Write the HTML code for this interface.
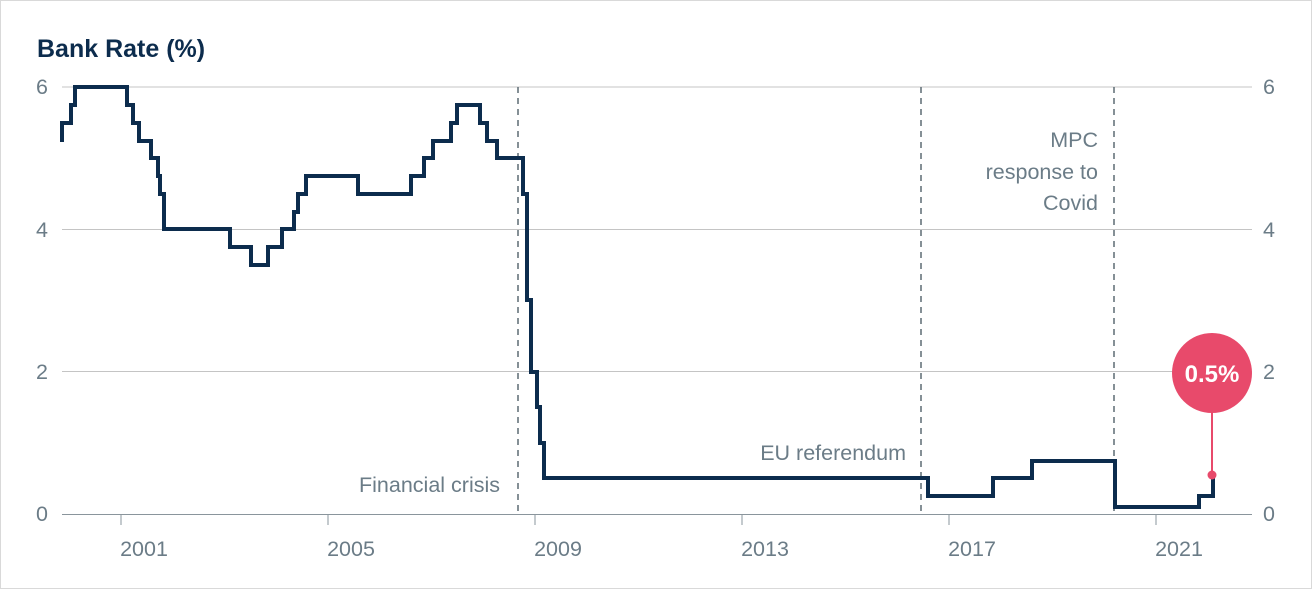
<!DOCTYPE html>
<html><head><meta charset="utf-8"><style>
html,body{margin:0;padding:0;background:#fff}
svg{display:block}
text{font-family:"Liberation Sans",sans-serif}
</style></head><body>
<svg width="1312" height="591" viewBox="0 0 1312 591">
<rect x="0.5" y="0.5" width="1311" height="588" fill="#fff" stroke="#d9d9d9"/>
<text x="37" y="57" font-size="25" font-weight="bold" fill="#0c2c4d">Bank Rate (%)</text>
<g stroke="#c4c4c4" stroke-width="1">
<line x1="62" y1="87" x2="1252" y2="87"/>
<line x1="62" y1="229.5" x2="1252" y2="229.5"/>
<line x1="62" y1="371.5" x2="1252" y2="371.5"/>
</g>
<line x1="62" y1="514.5" x2="1252" y2="514.5" stroke="#8a959c"/>
<g stroke="#8a959c">
<line x1="121" y1="514" x2="121" y2="525"/><line x1="328" y1="514" x2="328" y2="525"/>
<line x1="535" y1="514" x2="535" y2="525"/><line x1="742" y1="514" x2="742" y2="525"/>
<line x1="949" y1="514" x2="949" y2="525"/><line x1="1156" y1="514" x2="1156" y2="525"/>
</g>
<g fill="#6b7c87" font-size="21.5">
<text x="48" y="94" text-anchor="end">6</text><text x="48" y="237" text-anchor="end">4</text>
<text x="48" y="379" text-anchor="end">2</text><text x="48" y="521" text-anchor="end">0</text>
<text x="1263" y="94">6</text><text x="1263" y="237">4</text>
<text x="1263" y="379">2</text><text x="1263" y="521">0</text>
<g text-anchor="middle">
<text x="144" y="556">2001</text><text x="351" y="556">2005</text><text x="558" y="556">2009</text>
<text x="765" y="556">2013</text><text x="972" y="556">2017</text><text x="1179" y="556">2021</text>
</g>
<text x="500" y="492" text-anchor="end">Financial crisis</text>
<text x="906" y="460" text-anchor="end">EU referendum</text>
<text x="1098" y="147" text-anchor="end">MPC</text>
<text x="1098" y="179" text-anchor="end">response to</text>
<text x="1098" y="210" text-anchor="end">Covid</text>
</g>
<g stroke="#5d6b74" stroke-width="1.5" stroke-dasharray="6,5">
<line x1="518" y1="87" x2="518" y2="514"/>
<line x1="921" y1="87" x2="921" y2="514"/>
<line x1="1114" y1="87" x2="1114" y2="514"/>
</g>
<path fill="none" stroke="#0c2c4d" stroke-width="4" stroke-linejoin="miter" d="M62,142 V123 H71 V105 H75 V87 H127 V105 H133 V123 H139 V141 H151 V158 H158 V176 H160 V194 H164 V229 H230 V247 H251 V265 H268 V247 H282 V229 H294 V212 H298 V194 H306 V176 H358 V194 H411 V176 H424 V158 H433 V141 H451 V123 H457 V105 H480 V123 H487 V141 H497 V158 H523 V194 H527 V300 H531 V372 H537 V407 H540 V443 H544 V478 H928 V496 H993 V478 H1032 V461 H1115 V507 H1199 V496 H1213 V478"/>
<line x1="1212" y1="410" x2="1212" y2="475" stroke="#e84a6b" stroke-width="2"/>
<circle cx="1212" cy="475" r="4.5" fill="#e84a6b"/>
<circle cx="1212" cy="373" r="40" fill="#e84a6b"/>
<text x="1212" y="382" text-anchor="middle" fill="#fff" font-size="24" font-weight="bold">0.5%</text>
</svg>
</body></html>
